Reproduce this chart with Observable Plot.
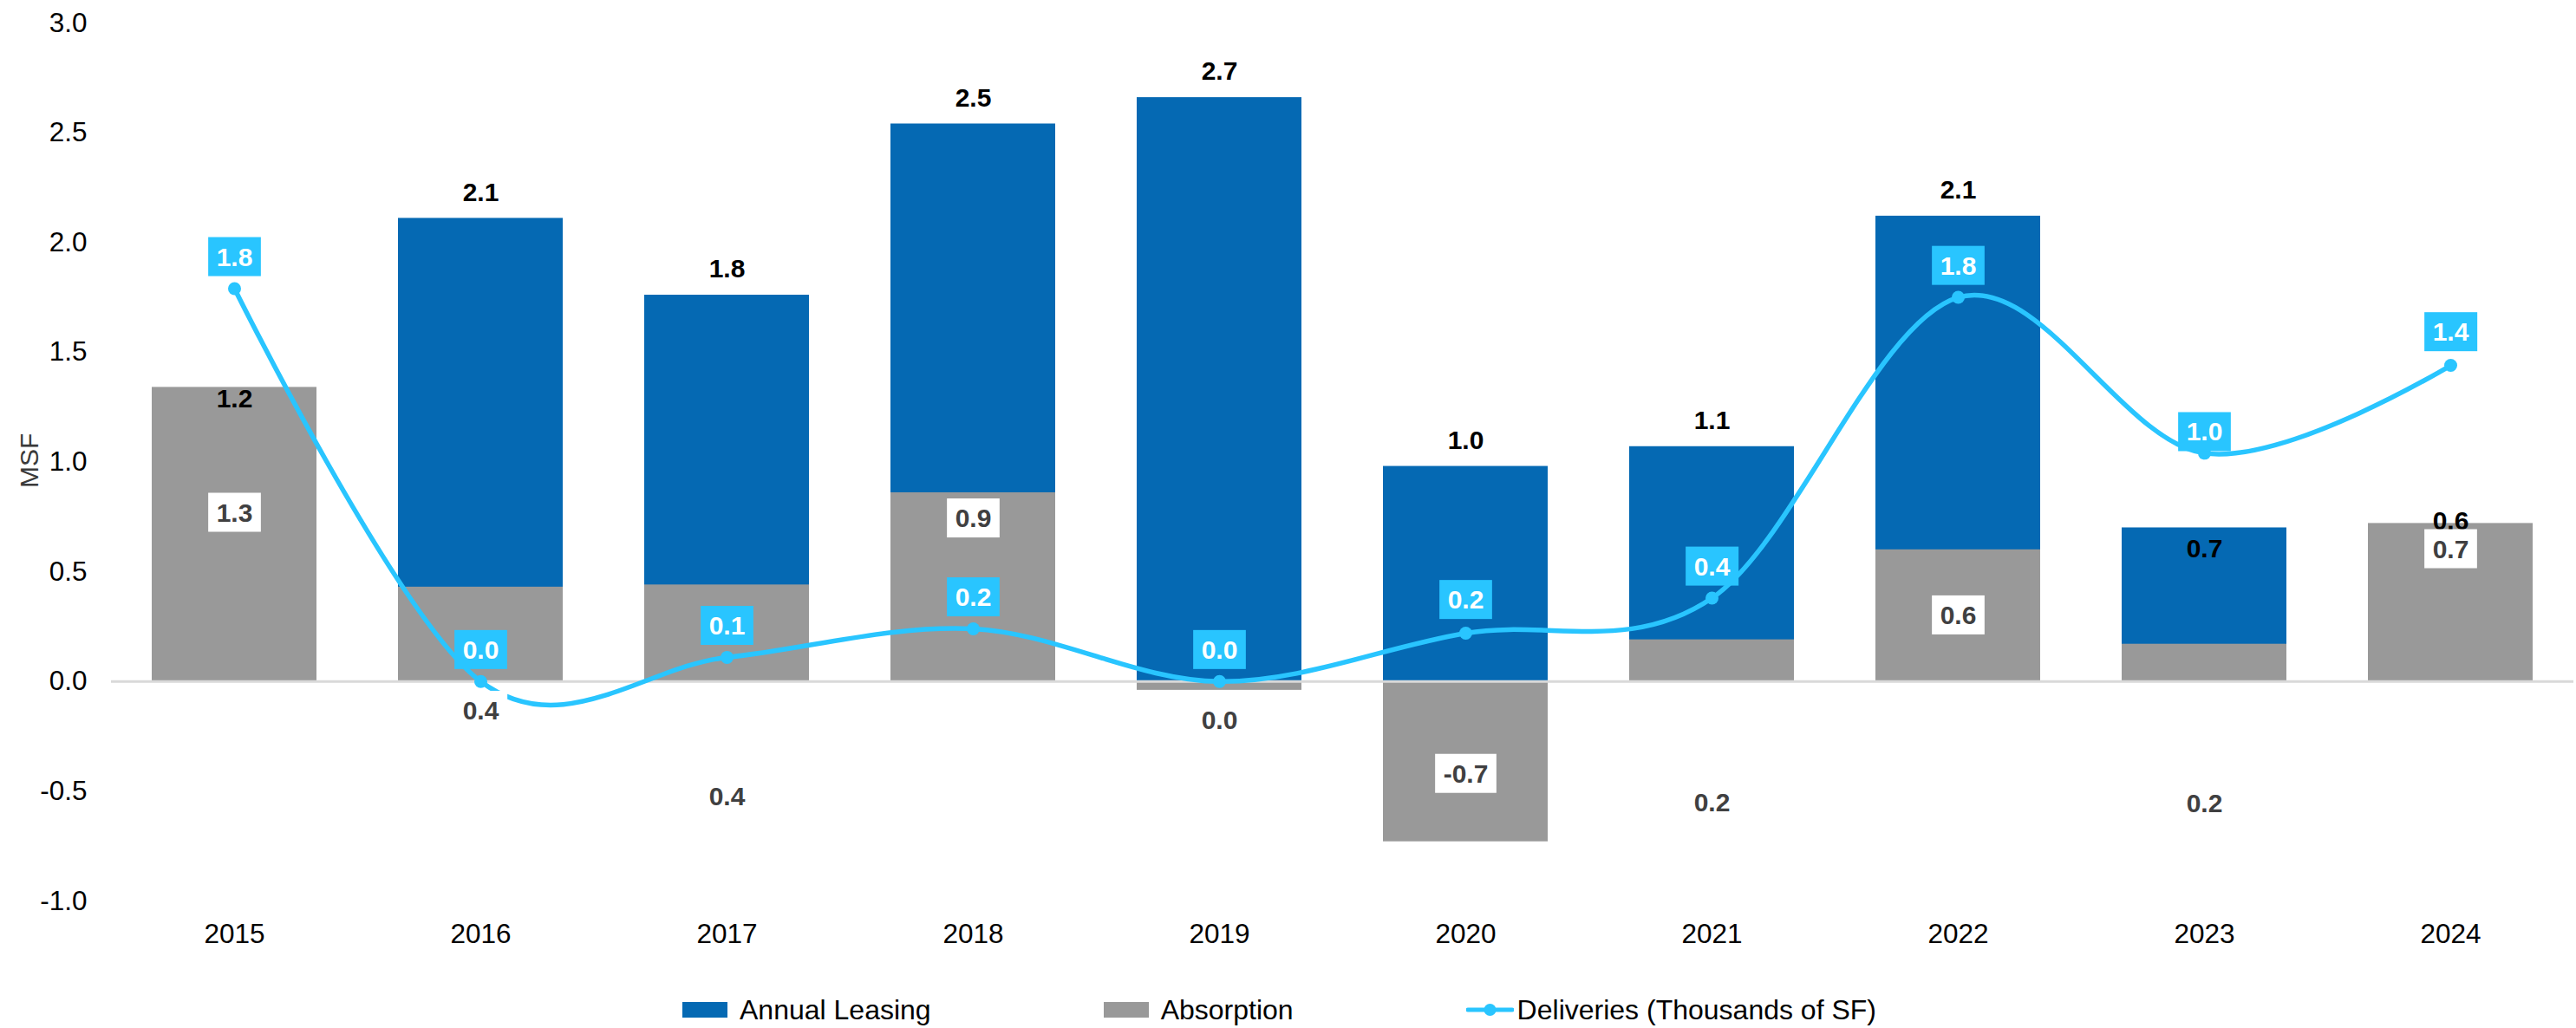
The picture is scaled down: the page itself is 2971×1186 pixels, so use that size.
<!DOCTYPE html>
<html>
<head>
<meta charset="utf-8">
<script src="https://cdn.jsdelivr.net/npm/d3@7"></script>
<script src="https://cdn.jsdelivr.net/npm/@observablehq/plot@0.6"></script>
<style>
  html, body { margin: 0; padding: 0; background: #fff; overflow: hidden; }
  body { width: 2971px; height: 1186px; font-family: "Liberation Sans", Arial, sans-serif; }
  #legend { display: flex; align-items: center; height: 38px; margin-top: 26px; padding-left: 787px; gap: 199px; font-size: 32px; color: #000; }
  .item { display: flex; align-items: center; white-space: nowrap; }
  .sw { width: 52px; height: 18px; margin-right: 14px; }
</style>
</head>
<body>
<div id="chart"></div>
<div id="legend"></div>
<script>
// ---- data ----
const years = ["2015", "2016", "2017", "2018", "2019", "2020", "2021", "2022", "2023", "2024"];
const annualLeasing = [1.17, 2.11, 1.76, 2.54, 2.66, 0.98, 1.07, 2.12, 0.70, 0.61];
const absorption = [1.34, 0.43, 0.44, 0.86, -0.04, -0.73, 0.19, 0.60, 0.17, 0.72];
const deliveries = [1.79, 0.0, 0.11, 0.24, 0.0, 0.22, 0.38, 1.75, 1.04, 1.44];
const leasingLabels = ["1.2", "2.1", "1.8", "2.5", "2.7", "1.0", "1.1", "2.1", "0.7", "0.6"];
const absorptionLabels = ["1.3", "0.4", "0.4", "0.9", "0.0", "-0.7", "0.2", "0.6", "0.2", "0.7"];
const deliveriesLabels = ["1.8", "0.0", "0.1", "0.2", "0.0", "0.2", "0.4", "1.8", "1.0", "1.4"];
const yTicks = [-1, -0.5, 0, 0.5, 1, 1.5, 2, 2.5, 3];
const seriesNames = ["Annual Leasing", "Absorption", "Deliveries (Thousands of SF)"];

// ---- label placement (pixel offsets from each value, as in the original layout) ----
const leasingLabelDy = [-30, -30, -30, -30, -30, -30, -30, -30, 24, -30];
const absorptionLabelDy = [145, 143, 245, 30, 35, -78, 188, 76, 184, 30];
const deliveriesLabelDy = [-36, -36, -36, -36, -36, -38, -36, -36, -24, -38];

const BLUE = "#0569B3", GRAY = "#999999", LIGHT = "#29C5FF";
const ABS_TXT = "#404041", DEL_TXT = "#fffffe";

const data = years.map((year, i) => ({
  year,
  leasing: annualLeasing[i],
  absorption: absorption[i],
  deliveries: deliveries[i]
}));

const textBase = { fontSize: 30, fontWeight: "bold", fontFamily: "Liberation Sans, Arial, sans-serif" };

const chart = Plot.plot({
  width: 2971,
  height: 1120,
  marginTop: 26,
  marginBottom: 81,
  marginLeft: 128,
  marginRight: 3,
  style: { fontFamily: "Liberation Sans, Arial, sans-serif", fontSize: "31.5px", color: "#000", background: "#fff" },
  x: { type: "band", domain: years, paddingInner: 0.33, paddingOuter: 0.165, tickSize: 0, tickPadding: 26, label: null },
  y: { domain: [-1, 3], ticks: yTicks, tickFormat: d => d.toFixed(1), tickSize: 0, tickPadding: 28, label: null },
  marks: [
    Plot.barY(data, { x: "year", y: "leasing", fill: BLUE }),
    Plot.barY(data, { x: "year", y: "absorption", fill: GRAY }),
    Plot.ruleY([0], { stroke: "#D9D9D9", strokeWidth: 3 }),
    Plot.line(data, { x: "year", y: "deliveries", stroke: LIGHT, strokeWidth: 5.5, curve: "cardinal" }),
    Plot.dot(data, { x: "year", y: "deliveries", fill: LIGHT, r: 7.5 }),
    ...data.map((d, i) => Plot.text([d], { ...textBase, x: "year", y: "leasing", text: () => leasingLabels[i], dy: leasingLabelDy[i], fill: "#000" })),
    ...data.map((d, i) => Plot.text([d], { ...textBase, x: "year", y: "absorption", text: () => absorptionLabels[i], dy: absorptionLabelDy[i], fill: ABS_TXT })),
    ...data.map((d, i) => Plot.text([d], { ...textBase, x: "year", y: "deliveries", text: () => deliveriesLabels[i], dy: deliveriesLabelDy[i], fill: DEL_TXT })),
    Plot.text(["MSF"], { frameAnchor: "left", rotate: -90, dx: -94, dy: 30, fontSize: 30, fill: "#3a3a3a" })
  ]
});

document.getElementById("chart").append(chart);

// label boxes behind the absorption and deliveries labels
const boxFill = { [ABS_TXT]: "#ffffff", [DEL_TXT]: LIGHT };
chart.querySelectorAll("g").forEach(g => {
  const f = (g.getAttribute("fill") || "").toLowerCase();
  if (!(f in boxFill)) return;
  g.querySelectorAll("text").forEach(t => {
    const b = t.getBBox();
    const w = b.width + 19, h = 45;
    const r = document.createElementNS("http://www.w3.org/2000/svg", "rect");
    r.setAttribute("x", b.x + b.width / 2 - w / 2);
    r.setAttribute("y", b.y + b.height / 2 - h / 2);
    r.setAttribute("width", w);
    r.setAttribute("height", h);
    r.setAttribute("fill", boxFill[f]);
    if (t.getAttribute("transform")) r.setAttribute("transform", t.getAttribute("transform"));
    t.parentNode.insertBefore(r, t);
  });
});

// legend
const legend = document.getElementById("legend");
const sw = [
  `<div class="sw" style="background:${BLUE}"></div>`,
  `<div class="sw" style="background:${GRAY}"></div>`,
  `<svg width="55" height="20" style="margin-right:4px"><line x1="2" y1="10" x2="53" y2="10" stroke="${LIGHT}" stroke-width="5" stroke-linecap="round"/><circle cx="27.5" cy="10" r="7" fill="${LIGHT}"/></svg>`
];
seriesNames.forEach((n, i) => {
  const it = document.createElement("div");
  it.className = "item";
  it.innerHTML = sw[i] + `<span>${n}</span>`;
  legend.append(it);
});
</script>
</body>
</html>
